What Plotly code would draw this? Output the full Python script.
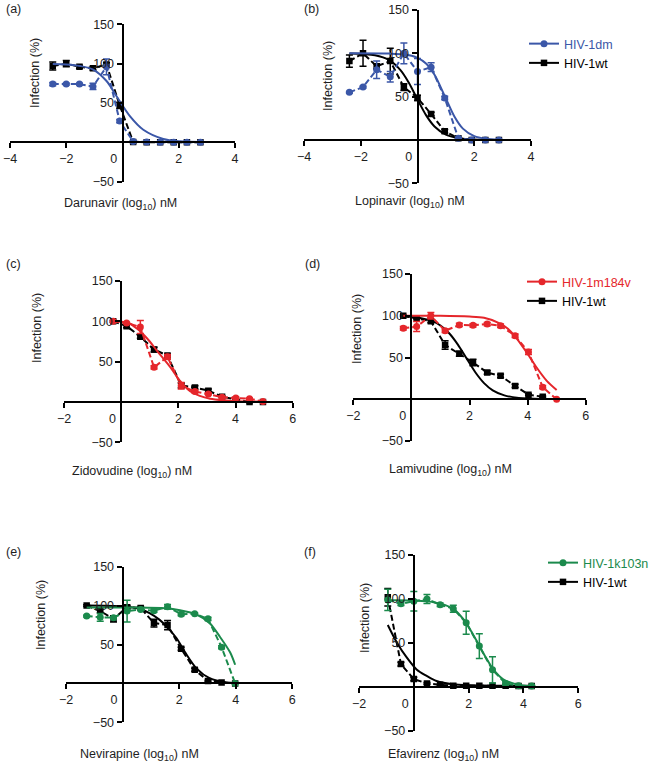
import plotly.graph_objects as go

W, H = 653, 765
BLUE, RED, GREEN, BLACK = "#3b57a8", "#e5262b", "#1b8a4c", "#000000"
TXT = "#1e1e1e"
FONT = "Liberation Sans, Arial, Helvetica, sans-serif"

Y_RANGE = (-50, 150)
Y_TICKS = [-50, 50, 100, 150]

# ---------------- (a) Darunavir ----------------
a_x = [-2.48, -2.00, -1.53, -1.05, -0.57, -0.10, 0.38, 0.86, 1.34, 1.82, 2.29, 2.77]
a_wt = [97, 100, 96, 94, 99, 47, 0.5, 0, 0, 0, 0, 0]
a_wt_err = [5, 4, 2, 2, 2, 4, 1, 0, 0, 0, 0, 0]
a_dm = [74, 74, 74, 71, 96, 27, 1, 0.5, 0, 0, 0, 0]
a_dm_err = [2, 1, 1, 4, 10, 2, 1, 0, 0, 0, 0, 0]
a_dm_fit_x = [-2.48, -2.0, -1.5, -1.04, -0.56, -0.21, 0.27, 0.74, 1.45, 2.04, 2.77]
a_dm_fit_y = [99.5, 99, 97, 92.5, 77.6, 58.5, 33, 16, 4.3, 1.3, 0.3]

# ---------------- (b) Lopinavir ----------------
b_x = [-2.40, -1.92, -1.44, -0.96, -0.48, 0.00, 0.48, 0.96, 1.44, 1.91, 2.39, 2.87]
b_wt = [91, 100, 85, 91, 61, 48.5, 30, 10, 2, 0, 0, 0]
b_wt_err = [7, 15, 3, 15, 4, 3, 2, 2, 1, 0, 0, 0]
b_dm = [55, 61, 81, 73, 100, 79, 84, 48.5, 2, 0, 0, 0]
b_dm_err = [1, 1, 10, 6, 12, 15, 5, 2, 1, 0, 0, 0]
b_wt_fit_x = [-2.40, -1.5, -1.0, -0.6, -0.3, 0.0, 0.3, 0.6, 1.0, 1.5, 2.0, 2.87]
b_wt_fit_y = [99.8, 97.7, 92.2, 80.7, 65.8, 46.8, 28.7, 15.6, 6.1, 1.8, 0.5, 0]
b_dm_fit_x = [-2.40, -1.0, -0.5, 0.0, 0.3, 0.6, 0.97, 1.3, 1.6, 2.0, 2.4, 2.87]
b_dm_fit_y = [100, 99.7, 98.8, 94.8, 88.2, 75.2, 50, 27.1, 13.1, 4.4, 1.35, 0.3]

# ---------------- (c) Zidovudine ----------------
c_x = [-0.28, 0.19, 0.67, 1.15, 1.62, 2.10, 2.58, 3.05, 3.53, 4.01, 4.49, 4.96]
c_wt = [100, 94, 81, 65, 57.5, 20.5, 18, 14, 6.5, 3, 0, 0]
c_wt_err = [1, 2, 2, 3, 2, 3, 2, 2, 1, 1, 1, 0]
c_m184v = [100, 98, 93, 43, 56, 20, 13, 10, 6, 5, 4, 0.5]
c_m184v_err = [1, 1, 8, 2, 3, 4, 2, 1, 1, 1, 1, 0]
c_m184v_fit_x = [-0.28, 0.0, 0.31, 0.55, 0.77, 1.0, 1.24, 1.47, 1.71, 2.06, 2.41, 2.75, 3.11, 3.6, 4.04, 4.96]
c_m184v_fit_y = [100.5, 99.5, 97, 91, 84, 75, 64, 54, 43.5, 26, 13.5, 7.5, 4, 2, 1, 0.3]

# ---------------- (d) Lamivudine ----------------
d_x = [-0.28, 0.18, 0.67, 1.16, 1.65, 2.12, 2.61, 3.07, 3.57, 4.03, 4.52, 5.00]
d_wt = [100, 97, 93.5, 65, 54.5, 44, 32, 28, 16, 5.5, 3, None]
d_wt_err = [1, 1, 2, 5, 3, 4, 2, 2, 2, 1, 1, 0]
d_m184v = [85, 87, 100, 82, 89, 88.5, 90, 88, 76, 56.5, 14.5, 0]
d_m184v_err = [2, 6, 4, 2, 2, 2, 2, 2, 2, 3, 2, 0]
d_wt_fit_x = [-0.28, 0.3, 0.7, 1.0, 1.3, 1.6, 1.88, 2.2, 2.5, 2.8, 3.2, 3.7, 4.52]
d_wt_fit_y = [99.3, 97.4, 93.8, 88.3, 79.1, 65.5, 50, 32.3, 19.3, 10.7, 4.6, 1.5, 0.2]
d_m184v_fit_x = [-0.28, 1.0, 2.0, 2.5, 3.0, 3.3, 3.62, 3.97, 4.31, 4.66, 5.0]
d_m184v_fit_y = [100, 100, 99, 97.5, 91.5, 85, 73, 56, 38, 22, 11]

# ---------------- (e) Nevirapine ----------------
e_x = [-1.27, -0.79, -0.32, 0.16, 0.64, 1.11, 1.59, 2.07, 2.55, 3.02, 3.50, 3.98]
e_wt = [100, 93, 83, 98, 97, 77.5, 75, 44.5, 17.5, 3.2, 1.2, 0]
e_wt_err = [1, 2, 4, 2, 2, 5, 6, 2, 2, 1, 1, 0]
e_k103n = [86.5, 85, 84.5, 93, 95, 93.5, 98.5, 89, 89.5, 83, 46.5, 0]
e_k103n_err = [1, 5, 1, 14, 1, 2, 3, 2, 1, 2, 2, 0]
e_wt_fit_x = [-1.27, 0.0, 0.6, 0.97, 1.3, 1.56, 1.91, 2.21, 2.62, 3.09, 3.68, 3.98]
e_wt_fit_y = [100, 99, 96, 90, 82, 73, 58, 40, 19, 6.4, 1.3, 0.6]
e_k103n_fit_x = [-1.27, 0.5, 1.5, 2.03, 2.62, 3.09, 3.44, 3.8, 3.98]
e_k103n_fit_y = [97.5, 97.5, 96.5, 94, 88.5, 77, 60, 40, 24]

# ---------------- (f) Efavirenz ----------------
f_x = [-0.95, -0.47, 0.00, 0.48, 0.96, 1.44, 1.91, 2.39, 2.87, 3.35, 3.82, 4.30]
f_wt = [102, 26, 9, 4, 2.5, 1.5, 1.5, 1.5, 1.5, 1.5, 1, 1]
f_wt_err = [10, 2, 2, 1, 1, 0, 0, 0, 0, 0, 0, 0]
f_k103n = [99, 94.5, 97.5, 100, 93.5, 89, 73, 46.5, 19.5, 4, 1.5, 1]
f_k103n_err = [12, 2, 11, 5, 2, 4, 13, 14, 15, 2, 1, 1]
f_wt_fit_x = [-0.95, -0.62, -0.26, 0.1, 0.47, 0.83, 1.44, 2.05, 3.0, 4.3]
f_wt_fit_y = [70.5, 50.7, 33.6, 20, 12.6, 6.8, 3, 2, 1.5, 1.3]
f_k103n_fit_x = [-0.95, 0.0, 0.5, 0.83, 1.15, 1.44, 1.7, 1.93, 2.1, 2.29, 2.6, 2.9, 3.26, 3.75, 4.3]
f_k103n_fit_y = [98.5, 98.3, 97.3, 95.5, 93, 88.7, 81, 72, 63, 52.5, 35, 20, 8.8, 3, 0.8]

# ---------------- text ----------------
drug_titles = ["Darunavir", "Lopinavir", "Zidovudine", "Lamivudine", "Nevirapine", "Efavirenz"]
panel_letters = ["(a)", "(b)", "(c)", "(d)", "(e)", "(f)"]
y_title = "Infection (%)"

# layout geometry in pixels (plot-area box: left, right, top, bottom)
panels = [
    dict(box=(10, 235, 24.3, 181.7), xr=(-4, 4), xt=[-4, -2, 0, 2, 4],
         letter=(13, 9), xtitle=(120, 204), ytitle=(35, 73)),
    dict(box=(304, 531, 10, 183.3), xr=(-4, 4), xt=[-4, -2, 0, 2, 4],
         letter=(311, 9), xtitle=(410, 202), ytitle=(328, 76)),
    dict(box=(64, 292.7, 281, 442.3), xr=(-2, 6), xt=[-2, 0, 2, 4, 6],
         letter=(13, 264), xtitle=(132, 472), ytitle=(37, 328)),
    dict(box=(353.3, 585.7, 274, 441), xr=(-2, 6), xt=[-2, 0, 2, 4, 6],
         letter=(312, 264), xtitle=(450, 470), ytitle=(357, 329)),
    dict(box=(66, 292.3, 566.7, 722.3), xr=(-2, 6), xt=[-2, 0, 2, 4, 6],
         letter=(13, 552), xtitle=(139, 755), ytitle=(41, 615)),
    dict(box=(359, 578.3, 555, 731), xr=(-2, 6), xt=[-2, 0, 2, 4, 6],
         letter=(310, 552), xtitle=(444, 755), ytitle=(365, 618)),
]


def tick_label(v):
    if v < 0:
        return "\u2212" + str(abs(v))
    if v == 0:
        return "0" + "\u00a0" * 5
    return str(v)


fig = go.Figure()

axis_style = dict(showline=True, linecolor="black", linewidth=2, ticks="outside",
                  ticklen=5, tickwidth=2, tickcolor="black", showgrid=False,
                  zeroline=False, fixedrange=True, automargin=False,
                  tickfont=dict(size=12.5, family=FONT, color=TXT))

axes_ids = []
for i, P in enumerate(panels):
    sfx = "" if i == 0 else str(i + 1)
    l, r, t, b = P["box"]
    xd = [l / W, r / W]
    yd = [1 - b / H, 1 - t / H]
    x0, x1 = P["xr"]
    y0, y1 = Y_RANGE
    ypos = xd[0] + (0 - x0) / (x1 - x0) * (xd[1] - xd[0])
    xpos = yd[0] + (0 - y0) / (y1 - y0) * (yd[1] - yd[0])
    fig.update_layout(**{
        "xaxis" + sfx: dict(domain=xd, range=[x0, x1], anchor="free", position=xpos,
                            tickvals=P["xt"], ticktext=[tick_label(v) for v in P["xt"]],
                            **axis_style),
        "yaxis" + sfx: dict(domain=yd, range=[y0, y1], anchor="free", position=ypos,
                            tickvals=Y_TICKS, ticktext=[tick_label(v) for v in Y_TICKS],
                            **axis_style),
    })
    axes_ids.append(("x" + sfx, "y" + sfx))


def add_series(k, x, y, err, fx, fy, color, symbol, size):
    xa, ya = axes_ids[k]
    if fx is not None:
        fig.add_trace(go.Scatter(x=fx, y=fy, xaxis=xa, yaxis=ya, mode="lines",
                                 line=dict(color=color, width=2, shape="spline", smoothing=0.8),
                                 showlegend=False, hoverinfo="skip"))
    fig.add_trace(go.Scatter(x=x, y=y, xaxis=xa, yaxis=ya, mode="lines+markers",
                             line=dict(color=color, width=2, dash="6px,3px"),
                             marker=dict(symbol=symbol, size=size, color=color),
                             error_y=dict(type="data", array=err, color=color,
                                          thickness=1.5, width=3.5),
                             showlegend=False, hoverinfo="skip"))


def add_legend_item(k, name, color, symbol, size, legend):
    xa, ya = axes_ids[k]
    fig.add_trace(go.Scatter(x=[None], y=[None], xaxis=xa, yaxis=ya, mode="lines+markers",
                             line=dict(color=color, width=2),
                             marker=dict(symbol=symbol, size=size, color=color),
                             name='<span style="color:%s">%s</span>' % (color, name),
                             legend=legend, showlegend=True, hoverinfo="skip"))


SQ, CI = ("square", 6.5), ("circle", 7)

# (a)
add_series(0, a_x, a_wt, a_wt_err, None, None, BLACK, *SQ)
add_series(0, a_x, a_dm, a_dm_err, a_dm_fit_x, a_dm_fit_y, BLUE, *CI)
# (b)
add_series(1, b_x, b_wt, b_wt_err, b_wt_fit_x, b_wt_fit_y, BLACK, *SQ)
add_series(1, b_x, b_dm, b_dm_err, b_dm_fit_x, b_dm_fit_y, BLUE, *CI)
add_legend_item(1, "HIV-1dm", BLUE, *CI, "legend2")
add_legend_item(1, "HIV-1wt", BLACK, *SQ, "legend2")
# (c)
add_series(2, c_x, c_wt, c_wt_err, None, None, BLACK, *SQ)
add_series(2, c_x, c_m184v, c_m184v_err, c_m184v_fit_x, c_m184v_fit_y, RED, *CI)
# (d)
add_series(3, d_x, d_wt, d_wt_err, d_wt_fit_x, d_wt_fit_y, BLACK, *SQ)
add_series(3, d_x, d_m184v, d_m184v_err, d_m184v_fit_x, d_m184v_fit_y, RED, *CI)
add_legend_item(3, "HIV-1m184v", RED, *CI, "legend3")
add_legend_item(3, "HIV-1wt", BLACK, *SQ, "legend3")
# (e)
add_series(4, e_x, e_wt, e_wt_err, e_wt_fit_x, e_wt_fit_y, BLACK, *SQ)
add_series(4, e_x, e_k103n, e_k103n_err, e_k103n_fit_x, e_k103n_fit_y, GREEN, *CI)
# (f)
add_series(5, f_x, f_wt, f_wt_err, f_wt_fit_x, f_wt_fit_y, BLACK, *SQ)
add_series(5, f_x, f_k103n, f_k103n_err, f_k103n_fit_x, f_k103n_fit_y, GREEN, *CI)
add_legend_item(5, "HIV-1k103n", GREEN, *CI, "legend4")
add_legend_item(5, "HIV-1wt", BLACK, *SQ, "legend4")


def ann(text, xp, yp, size, angle=0):
    fig.add_annotation(text=text, x=xp / W, y=1 - yp / H, xref="paper", yref="paper",
                       showarrow=False, textangle=angle, xanchor="center", yanchor="middle",
                       font=dict(size=size, color=TXT, family=FONT))


for i, P in enumerate(panels):
    ann(panel_letters[i], *P["letter"], 12.5)
    ann(drug_titles[i] + " (log<sub>10</sub>) nM", *P["xtitle"], 12.5)
    ann(y_title, *P["ytitle"], 12.5, angle=-90)

legend_cfg = dict(bgcolor="rgba(0,0,0,0)", borderwidth=0, xanchor="left", yanchor="top",
                  itemwidth=30, tracegroupgap=0,
                  font=dict(size=12.5, family=FONT, color=TXT))
fig.update_layout(
    width=W, height=H,
    margin=dict(l=0, r=0, t=0, b=0, pad=0, autoexpand=False),
    paper_bgcolor="white", plot_bgcolor="rgba(0,0,0,0)",
    hovermode=False, showlegend=True,
    legend2=dict(x=(562 - 38) / W, y=1 - 29 / H, **legend_cfg),
    legend3=dict(x=(560 - 38) / W, y=1 - 267 / H, **legend_cfg),
    legend4=dict(x=(581 - 38) / W, y=1 - 548 / H, **legend_cfg),
)

fig.write_html("out.html", config={"displayModeBar": False, "staticPlot": True},
               post_script="document.body.style.margin='0';document.body.style.overflow='hidden';")
